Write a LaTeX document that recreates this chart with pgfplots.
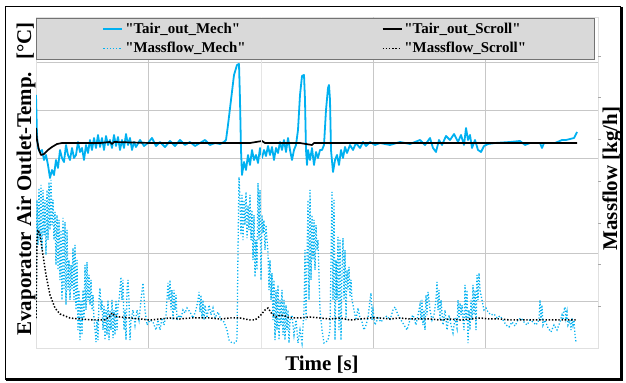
\documentclass[border=0pt]{standalone}
\usepackage{pgfplots}
\pgfplotsset{compat=1.18}
\usepackage{fontspec}
\setmainfont{Liberation Serif}[Ligatures=TeXOff]
\definecolor{mechblue}{RGB}{0,176,240}
\begin{document}
\begin{tikzpicture}
\useasboundingbox (0,0) rectangle (626bp,383bp);
% outer frame
\draw[line width=1.5bp] (5.5bp,4bp) rectangle (620.5bp,376.5bp);
\draw[line width=1.2bp] (6bp,2.6bp) -- (621.9bp,2.6bp) -- (621.9bp,376bp);
% ---------------- temperature axis (left) ----------------
\begin{axis}[at={(36bp,35bp)}, anchor=south west, scale only axis,
  width=562bp, height=331bp,
  xmin=0, xmax=562, ymin=0, ymax=331,
  xtick={112,449}, ytick={47,190,238,286},
  xticklabels={}, yticklabels={},
  extra x ticks={337}, extra x tick labels={},
  extra x tick style={grid style={black!45, line width=0.8bp}},
  extra y ticks={95}, extra y tick labels={},
  extra y tick style={grid style={black!45, line width=0.8bp}},
  grid=major, major grid style={black!22, line width=0.8bp},
  major tick length=0pt, tick style={draw=none},
  axis line style={black!12, line width=0.8bp}]
% Tair_out_Mech
\addplot[mechblue, line width=1.8bp, line join=round] coordinates {
(0,253)(1,213)(2,200)(4,196)(6,198)(8,188)(10,193)(12,183)(14,170)(16,178)(18,173)(20,188)
(22,180)(24,198)(26,190)(28,186)(30,203)(32,193)(34,188)(36,200)(38,190)(40,193)(42,206)
(44,196)(46,200)(48,188)(50,203)(52,195)(54,208)(56,198)(58,210)(60,200)(62,213)(64,201)
(66,210)(68,198)(70,212)(72,203)(74,208)(76,200)(78,213)(80,202)(82,211)(84,198)(86,208)
(88,200)(90,214)(92,203)(94,210)(96,198)(98,206)(100,201)(104,208)(108,202)(112,205)
(116,210)(120,202)(124,206)(129,201)(134,207)(139,202)(144,208)(149,203)(154,206)(159,202)
(164,205)(169,208)(174,203)(179,205)(184,204)(188,206)(190,208)(192,223)(195,248)(198,273)
(201,283)(203,284)(204,248)(205,198)(206,173)(208,186)(210,178)(212,193)(214,183)(216,198)
(218,188)(220,193)(222,185)(224,200)(226,190)(228,198)(230,192)(232,202)(234,193)(236,201)
(238,188)(240,200)(242,195)(244,206)(246,198)(248,208)(250,196)(252,210)(254,198)(256,188)
(258,198)(260,203)(262,218)(264,253)(266,272)(268,273)(269,248)(270,198)(271,183)(272,198)
(274,188)(276,200)(278,183)(280,196)(282,190)(284,198)(286,198)(288,203)(290,238)(292,260)
(293,263)(294,248)(295,198)(297,176)(299,188)(301,193)(303,183)(305,198)(307,190)(309,201)
(311,195)(314,203)(317,198)(320,205)(324,200)(327,206)(330,202)(334,206)(339,203)(344,205)
(354,203)(364,206)(374,204)(384,208)(389,203)(394,210)(397,200)(400,196)(403,208)(406,203)
(410,212)(414,208)(418,214)(422,206)(425,213)(428,203)(430,220)(432,208)(434,213)(436,200)
(439,208)(442,198)(445,196)(448,202)(452,204)(459,205)(474,206)(484,207)(489,203)(494,205)
(504,205)(506,200)(508,205)(519,205)(526,208)(530,208)(534,209)(538,210)(541,216)
};
% Tair_out_Scroll
\addplot[black, line width=1.7bp, line join=round] coordinates {
(0,220)(1,208)(3,198)(5,193)(8,194)(12,198)(16,201)(21,204)(26,205)(64,205)(74,206)(76,204)
(78,206)(114,205)(164,205)(214,205)(226,207)(229,205)(264,205)(276,203)(278,205)(314,205)
(364,205)(414,205)(464,205)(541,205)
};
\end{axis}
% ---------------- massflow axis (right) ----------------
\begin{axis}[at={(36bp,35bp)}, anchor=south west, scale only axis,
  width=562bp, height=331bp,
  xmin=0, xmax=562, ymin=0, ymax=331,
  xtick={225}, xticklabels={}, xmajorgrids=true,
  major grid style={black!10, line width=0.8bp},
  xtick style={draw=none},
  ytick={41.7,83.4,125.1,166.8,208.5,250.2,291.9}, yticklabels={},
  ytick pos=right, tick align=outside, major tick length=2.5bp,
  ytick style={black!35, line width=0.6bp},
  axis line style={draw=none},
  legend columns=2,
  legend cell align=left,
  legend image code/.code={\draw[#1] (0bp,0bp) -- (19bp,0bp);},
  legend style={at={(0.497,0.997)}, anchor=north, fill=black!15, draw=black!55,
    line width=0.9bp, font=\fontsize{15}{17}\selectfont\bfseries,
    inner xsep=66bp, inner ysep=3bp, row sep=3bp,
    /tikz/every even column/.append style={column sep=134bp}}]
\addlegendimage{mechblue, line width=1.8bp}
\addlegendentry{"Tair\_out\_Mech"}
\addlegendimage{black, line width=1.8bp}
\addlegendentry{"Tair\_out\_Scroll"}
% Massflow_Mech
\addplot[mechblue, line width=1.3bp, dash pattern=on 1.2bp off 2bp] coordinates {
(0,30)(1,148)(2,103)(3,160)(4,108)(5,163)(6,98)(7,158)(8,113)(9,148)(10,93)(11,158)(12,108)
(13,166)(14,118)(15,168)(16,123)(17,148)(18,108)(19,136)(20,83)(21,133)(22,78)(23,128)
(24,68)(25,118)(26,48)(27,130)(28,58)(29,126)(30,43)(31,118)(32,58)(33,88)(34,48)(35,83)
(36,58)(37,100)(38,48)(39,103)(40,38)(41,88)(42,18)(43,58)(44,8)(45,48)(46,13)(47,58)
(48,28)(49,83)(50,38)(51,86)(52,48)(53,73)(54,43)(55,68)(56,38)(57,53)(58,28)(59,18)(60,6)
(61,28)(62,8)(63,48)(64,60)(65,38)(66,48)(67,18)(68,43)(69,8)(70,38)(71,13)(72,48)(73,8)
(74,38)(75,18)(76,48)(77,10)(78,38)(79,13)(80,48)(81,18)(82,43)(83,48)(84,58)(85,71)(86,48)
(87,68)(88,18)(89,38)(90,8)(91,58)(92,68)(93,48)(94,8)(95,28)(97,38)(99,23)(101,38)(103,28)
(105,48)(107,65)(109,38)(111,23)(114,28)(117,26)(120,18)(122,28)(124,18)(126,30)(128,23)
(130,33)(132,65)(133,48)(134,68)(135,38)(136,58)(137,28)(138,58)(139,38)(140,53)(141,28)
(143,33)(145,30)(147,38)(149,35)(151,40)(154,36)(157,30)(160,38)(162,48)(163,56)(164,36)
(165,53)(166,30)(167,48)(168,28)(169,43)(171,30)(173,43)(175,33)(177,40)(179,30)(182,36)
(185,28)(188,26)(191,18)(193,8)(196,5)(199,5)(201,8)(202,98)(203,171)(204,148)(205,113)
(206,153)(207,108)(208,148)(209,123)(210,156)(211,110)(212,143)(213,118)(214,153)(215,108)
(216,138)(217,88)(218,133)(219,71)(220,108)(221,78)(222,165)(223,108)(224,158)(225,68)
(226,133)(227,115)(228,128)(229,98)(230,123)(231,108)(232,95)(233,58)(234,88)(235,48)
(236,75)(237,28)(238,68)(239,8)(240,58)(241,18)(242,63)(243,8)(244,48)(245,23)(246,58)
(247,13)(248,48)(249,8)(250,43)(251,18)(252,38)(253,5)(254,28)(256,33)(258,13)(260,28)
(262,5)(264,18)(266,5)(268,38)(269,98)(270,28)(271,88)(272,148)(273,48)(274,158)(275,68)
(276,133)(277,88)(278,128)(279,78)(280,123)(281,98)(282,108)(284,38)(286,18)(288,5)(290,6)
(292,8)(294,18)(295,88)(296,156)(297,48)(298,148)(299,8)(300,88)(301,48)(302,111)(303,18)
(304,108)(305,8)(306,78)(307,110)(308,48)(309,98)(310,28)(311,78)(312,58)(313,81)(314,51)
(315,68)(316,48)(318,38)(320,28)(322,40)(324,30)(326,26)(328,18)(330,23)(332,30)(334,48)
(335,55)(336,28)(337,38)(339,23)(342,30)(345,26)(348,30)(351,32)(354,28)(357,38)(359,41)
(362,33)(365,28)(368,23)(371,18)(374,28)(377,33)(380,23)(382,33)(384,43)(385,28)(386,48)
(387,23)(388,38)(389,18)(390,53)(391,33)(392,56)(393,48)(394,38)(396,28)(398,33)(400,48)
(401,66)(402,38)(403,58)(404,28)(405,48)(407,23)(409,38)(411,18)(413,33)(415,23)(417,15)
(419,30)(421,20)(422,48)(423,28)(424,45)(425,33)(426,43)(427,28)(428,18)(429,63)(430,28)
(431,58)(432,5)(433,38)(434,18)(435,48)(436,28)(437,63)(438,33)(439,58)(440,18)(441,73)
(442,48)(443,75)(444,58)(446,48)(448,38)(450,40)(452,36)(455,33)(458,34)(461,30)(464,32)
(467,28)(470,23)(473,21)(476,26)(479,22)(482,28)(485,30)(488,26)(491,23)(494,28)(497,26)
(500,23)(503,28)(504,48)(505,28)(506,43)(507,23)(509,28)(512,20)(515,16)(518,23)(521,18)
(524,26)(526,33)(527,28)(528,38)(529,41)(530,30)(531,36)(532,23)(534,28)(535,18)(536,30)
(537,23)(538,28)(539,13)(540,6)
};
\addlegendentry{"Massflow\_Mech"}
% Massflow_Scroll
\addplot[black, line width=1.5bp, dash pattern=on 1.4bp off 1.8bp] coordinates {
(0,30)(1,108)(2,118)(4,113)(7,93)(10,73)(14,53)(19,40)(24,34)(34,30)(44,29)(59,28)(69,28)
(74,32)(76,35)(79,32)(84,31)(94,30)(104,29)(114,28)(124,29)(134,30)(144,29)(154,30)(164,30)
(174,30)(184,29)(194,30)(204,30)(214,28)(219,28)(224,32)(229,38)(232,40)(236,34)(240,31)
(244,33)(249,32)(254,30)(264,30)(274,31)(284,30)(294,29)(304,30)(314,28)(324,29)(334,30)
(344,30)(354,29)(364,30)(374,29)(384,29)(394,29)(404,28)(414,29)(424,28)(434,29)(444,30)
(454,29)(464,29)(474,28)(484,28)(494,28)(504,28)(514,28)(524,28)(534,28)(541,28)
};
\addlegendentry{"Massflow\_Scroll"}
\end{axis}
% axis titles
\node[rotate=90, anchor=base, font=\fontsize{21}{25}\selectfont\bfseries] at (31bp,204bp)
  {Evaporator Air Outlet-Temp.\hspace{5bp} [°C]};
\node[rotate=90, anchor=base, font=\fontsize{21}{25}\selectfont\bfseries] at (617bp,204.5bp)
  {Massflow [kg/h]};
\node[anchor=base, font=\fontsize{21}{25}\selectfont\bfseries] at (322bp,13bp) {Time [s]};
\end{tikzpicture}
\end{document}
